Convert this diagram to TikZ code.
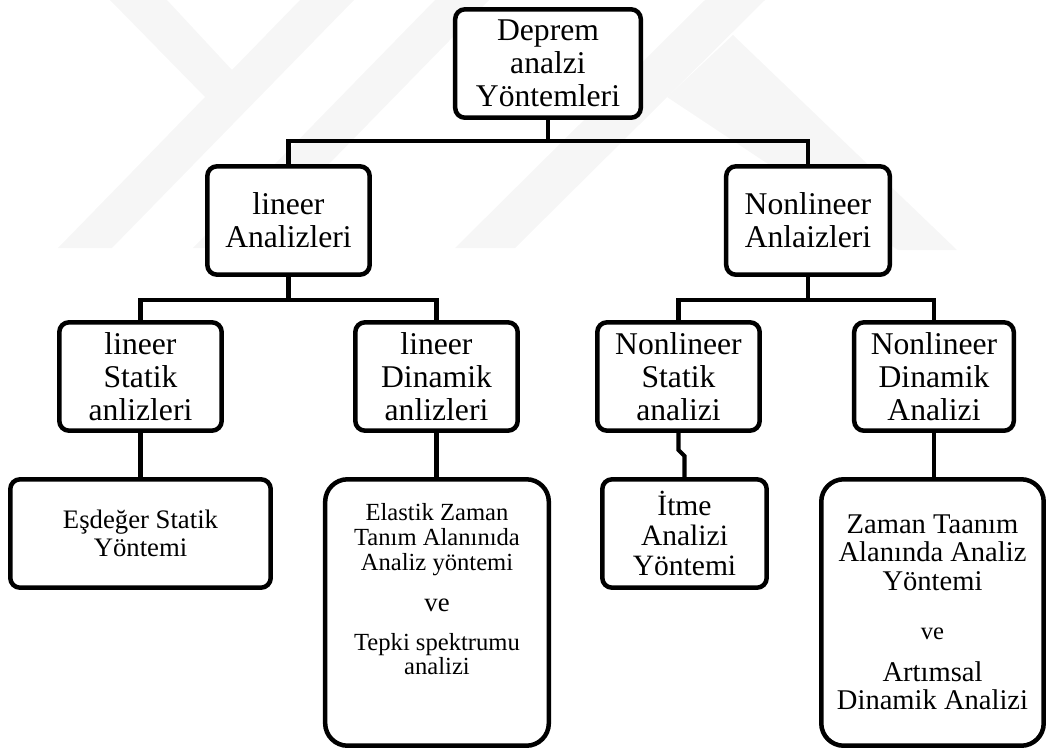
\documentclass[tikz,border=0pt]{standalone}
\usepackage{fontspec}
\setmainfont{Liberation Serif}
\usetikzlibrary{positioning}

\begin{document}
\begin{tikzpicture}[
  x=0.025cm, y=-0.025cm,
  box/.style={draw, fill=white, line width=3.2pt, rounded corners=7pt, align=center,
    inner sep=0pt, minimum height=2.71cm, font=\fontsize{22.5}{23.5}\selectfont},
  tallbox/.style={box, rounded corners=16pt, minimum height=6.66cm},
  link/.style={line width=3pt},
  wmark/.style={fill=gray!7, draw=none}
]

\useasboundingbox (0,0) rectangle (1048,751);

%% ── Watermark in the background ──────────────────────────────────────
\fill[wmark] (110,0) -- (167,0) -- (232,70) -- (300,0) -- (354,0)
    -- (112,248) -- (58,248) -- (205,97) -- cycle;
\fill[wmark] (193,248) -- (247,248) -- (489,0) -- (435,0) -- cycle;
\fill[wmark] (455,248) -- (515,248) -- (765,0) -- (705,0) -- cycle;
\fill[wmark] (667,97) -- (733,35) -- (957,250) -- (898,250) -- cycle;

%% ── Row positions ────────────────────────────────────────────────────
\def\yA{63.5}    % root
\def\yB{220.5}   % lineer / nonlineer
\def\yC{376.5}   % static / dynamic
\def\yD{533.5}   % methods (short boxes)
\def\yE{612.5}   % methods (tall boxes)

%% ── Root ─────────────────────────────────────────────────────────────
\node[box, minimum width=4.64cm] (deprem) at (548,\yA)
    {Deprem\\analzi\\Yöntemleri};

%% ── Second row ───────────────────────────────────────────────────────
\node[box, minimum width=4.06cm] (lineer) at (288.5,\yB) {lineer\\Analizleri};
\node[box, minimum width=4.09cm] (nonlineer) at (808,\yB) {Nonlineer\\Anlaizleri};

%% ── Third row ────────────────────────────────────────────────────────
\node[box, minimum width=4.06cm] (linstat) at (140.5,\yC) {lineer\\Statik\\anlizleri};
\node[box, minimum width=4.06cm] (lindin) at (436.5,\yC) {lineer\\Dinamik\\anlizleri};
\node[box, minimum width=4.06cm] (nonstat) at (678.5,\yC) {Nonlineer\\Statik\\analizi};
\node[box, minimum width=3.99cm] (nondin) at (934,\yC) {Nonlineer\\Dinamik\\Analizi};

%% ── Fourth row: methods ──────────────────────────────────────────────
\node[box, minimum width=6.51cm, font=\fontsize{19}{19.5}\selectfont]
    (esdeger) at (140.5,\yD) {Eşdeğer Statik\\Yöntemi};
\node[tallbox, minimum width=5.59cm, font=\fontsize{17.5}{17.5}\selectfont]
    (elastik) at (437,\yE)
    {Elastik Zaman\\Tanım Alanınıda\\Analiz yöntemi\\[12pt]
     {\fontsize{19}{17.5}\selectfont ve}\\[10pt]
     Tepki spektrumu\\analizi\rule[-33pt]{0pt}{33pt}};
\node[box, minimum width=4.11cm, font=\fontsize{21}{21.5}\selectfont]
    (itme) at (684.5,\yD) {İtme\\Analizi\\Yöntemi};
\node[tallbox, minimum width=5.56cm, font=\fontsize{20.3}{20}\selectfont]
    (zaman) at (932.5,\yE)
    {Zaman Taanım\\Alanında Analiz\\Yöntemi\\[15pt]
     {\fontsize{17.5}{20}\selectfont ve}\\[10pt]
     Artımsal\\Dinamik Analizi};

%% ── Connectors ───────────────────────────────────────────────────────
\coordinate (busA) at (548,141);
\coordinate (busL) at (288.5,300);
\coordinate (busN) at (808,300);

\draw[link] (deprem.south) -- (busA);
\draw[link] (lineer.north) |- (busA) -| (nonlineer.north);

\draw[link] (lineer.south) -- (busL);
\draw[link] (linstat.north) |- (busL) -| (lindin.north);

\draw[link] (nonlineer.south) -- (busN);
\draw[link] (nonstat.north) |- (busN) -| (nondin.north);

\draw[link] (linstat.south) -- (linstat.south |- esdeger.north);
\draw[link] (lindin.south) -- (lindin.south |- elastik.north);
\draw[link] (nonstat.south) -- (nonstat.south |- 0,450)
    -- (itme.north |- 0,456) -- (itme.north);
\draw[link] (nondin.south) -- (nondin.south |- zaman.north);

\end{tikzpicture}
\end{document}
